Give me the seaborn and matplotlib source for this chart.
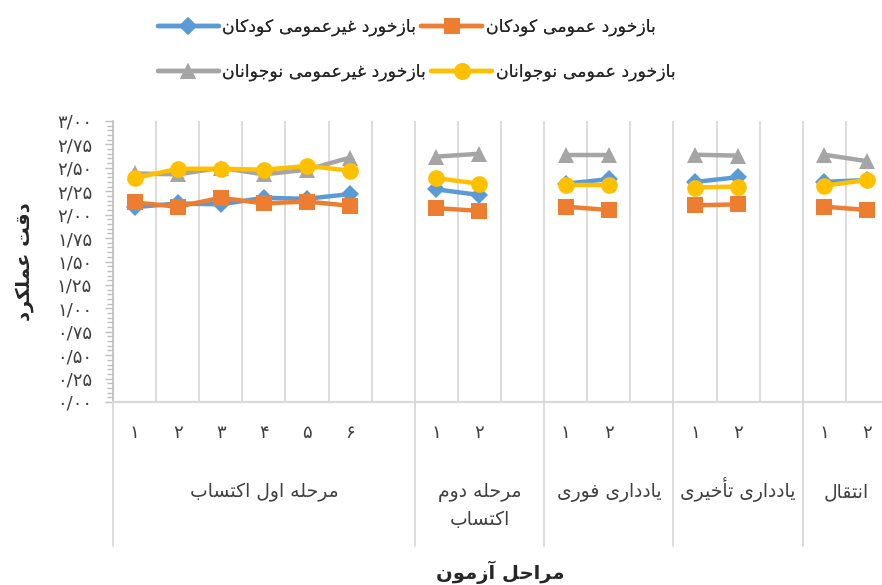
import matplotlib
matplotlib.use("Agg")
import matplotlib.pyplot as plt
from matplotlib.lines import Line2D
from matplotlib.ticker import FuncFormatter, MultipleLocator
import seaborn as sns
import pandas as pd
import numpy as np

# ---------------- data ----------------
series_names = ["بازخورد غیرعمومی کودکان", "بازخورد عمومی کودکان",
                "بازخورد غیرعمومی نوجوانان", "بازخورد عمومی نوجوانان"]
group_labels = ["مرحله اول اکتساب", "مرحله دوم\nاکتساب", "یادداری فوری",
                "یادداری تأخیری", "انتقال"]
group_sizes = [6, 2, 2, 2, 2]
tick_labels = ["1", "2", "3", "4", "5", "6", "1", "2", "1", "2", "1", "2", "1", "2"]

blue_vals = [2.08, 2.12, 2.11, 2.18, 2.17, 2.22, 2.27, 2.21, 2.33, 2.38, 2.35, 2.40, 2.35, 2.37]
orange_vals = [2.13, 2.085, 2.18, 2.12, 2.14, 2.095, 2.07, 2.04, 2.085, 2.05, 2.10, 2.11, 2.085, 2.05]
gray_vals = [2.44, 2.43, 2.50, 2.43, 2.48, 2.61, 2.62, 2.65, 2.64, 2.64, 2.64, 2.63, 2.64, 2.57]
yellow_vals = [2.39, 2.49, 2.49, 2.48, 2.52, 2.47, 2.39, 2.33, 2.32, 2.32, 2.29, 2.30, 2.31, 2.37]

y_label = "دقت عملکرد"
x_label = "مراحل آزمون"

colors = ["#5B9BD5", "#ED7D31", "#A5A5A5", "#FFC000"]
markers = ["D", "s", "^", "o"]
msizes = [9, 12, 12, 12]

# ---------------- Persian shaping (presentation forms + RTL order) ----------------
FORMS = {
    '\u0622': ('\uFE81', '\uFE82', None, None),
    '\u0623': ('\uFE83', '\uFE84', None, None),
    '\u0627': ('\uFE8D', '\uFE8E', None, None),
    '\u0628': ('\uFE8F', '\uFE90', '\uFE91', '\uFE92'),
    '\u067E': ('\uFB56', '\uFB57', '\uFB58', '\uFB59'),
    '\u062A': ('\uFE95', '\uFE96', '\uFE97', '\uFE98'),
    '\u062B': ('\uFE99', '\uFE9A', '\uFE9B', '\uFE9C'),
    '\u062C': ('\uFE9D', '\uFE9E', '\uFE9F', '\uFEA0'),
    '\u0686': ('\uFB7A', '\uFB7B', '\uFB7C', '\uFB7D'),
    '\u062D': ('\uFEA1', '\uFEA2', '\uFEA3', '\uFEA4'),
    '\u062E': ('\uFEA5', '\uFEA6', '\uFEA7', '\uFEA8'),
    '\u062F': ('\uFEA9', '\uFEAA', None, None),
    '\u0630': ('\uFEAB', '\uFEAC', None, None),
    '\u0631': ('\uFEAD', '\uFEAE', None, None),
    '\u0632': ('\uFEAF', '\uFEB0', None, None),
    '\u0698': ('\uFB8A', '\uFB8B', None, None),
    '\u0633': ('\uFEB1', '\uFEB2', '\uFEB3', '\uFEB4'),
    '\u0634': ('\uFEB5', '\uFEB6', '\uFEB7', '\uFEB8'),
    '\u0635': ('\uFEB9', '\uFEBA', '\uFEBB', '\uFEBC'),
    '\u0636': ('\uFEBD', '\uFEBE', '\uFEBF', '\uFEC0'),
    '\u0637': ('\uFEC1', '\uFEC2', '\uFEC3', '\uFEC4'),
    '\u0638': ('\uFEC5', '\uFEC6', '\uFEC7', '\uFEC8'),
    '\u0639': ('\uFEC9', '\uFECA', '\uFECB', '\uFECC'),
    '\u063A': ('\uFECD', '\uFECE', '\uFECF', '\uFED0'),
    '\u0641': ('\uFED1', '\uFED2', '\uFED3', '\uFED4'),
    '\u0642': ('\uFED5', '\uFED6', '\uFED7', '\uFED8'),
    '\u06A9': ('\uFB8E', '\uFB8F', '\uFB90', '\uFB91'),
    '\u06AF': ('\uFB92', '\uFB93', '\uFB94', '\uFB95'),
    '\u0644': ('\uFEDD', '\uFEDE', '\uFEDF', '\uFEE0'),
    '\u0645': ('\uFEE1', '\uFEE2', '\uFEE3', '\uFEE4'),
    '\u0646': ('\uFEE5', '\uFEE6', '\uFEE7', '\uFEE8'),
    '\u0648': ('\uFEED', '\uFEEE', None, None),
    '\u0647': ('\uFEE9', '\uFEEA', '\uFEEB', '\uFEEC'),
    '\u06CC': ('\uFBFC', '\uFBFD', '\uFBFE', '\uFBFF'),
}
FA_DIGITS = str.maketrans("0123456789.", "۰۱۲۳۴۵۶۷۸۹/")


def _shape(line):
    out = []
    n = len(line)
    for i, c in enumerate(line):
        f = FORMS.get(c)
        if f is None:
            out.append(c)
            continue
        dual = f[2] is not None
        p = line[i - 1] if i > 0 else None
        q = line[i + 1] if i < n - 1 else None
        pj = p in FORMS and FORMS[p][2] is not None
        nj = dual and q in FORMS
        if pj and nj:
            out.append(f[3])
        elif pj:
            out.append(f[1])
        elif nj:
            out.append(f[2])
        else:
            out.append(f[0])
    return "".join(out)


def fa(s):
    return "\n".join(_shape(l)[::-1] for l in s.split("\n"))


def fa_num(s):
    return s.translate(FA_DIGITS)


# ---------------- layout of categories ----------------
positions = []
segments = []
group_spans = []
pos = 0
for gi, size in enumerate(group_sizes):
    start = pos
    for k in range(size):
        positions.append(pos)
        segments.append(gi)
        pos += 1
    if gi < len(group_sizes) - 1:
        pos += 1  # blank category
    group_spans.append((start - 0.5, pos - 0.5))
n_cats = pos

rows = []
for name, vals in zip(series_names, [blue_vals, orange_vals, gray_vals, yellow_vals]):
    for p, s, v in zip(positions, segments, vals):
        rows.append({"pos": p, "value": v, "series": name, "segment": s})
df = pd.DataFrame(rows)

# ---------------- figure ----------------
sns.set_style("white")
plt.rcParams["font.family"] = ["DejaVu Sans"]

W, H = 882, 585
fig = plt.figure(figsize=(W / 100, H / 100), dpi=100)
left_px, right_px, top_px, bot_px = 113, 889, 121, 402
ax = fig.add_axes([left_px / W, (H - bot_px) / H, (right_px - left_px) / W, (bot_px - top_px) / H])

sns.lineplot(data=df, x="pos", y="value", hue="series", style="series",
             units="segment", estimator=None, sort=False,
             hue_order=series_names, style_order=series_names,
             palette=dict(zip(series_names, colors)),
             markers=dict(zip(series_names, markers)), dashes=False,
             linewidth=3.2, markersize=12, markeredgewidth=0,
             legend=False, ax=ax)
# per-series marker sizes
for line in ax.get_lines():
    c = matplotlib.colors.to_hex(line.get_color()).upper()
    if c in colors:
        line.set_markersize(msizes[colors.index(c)])

ax.set_xlim(-0.5, n_cats - 0.5)
ax.set_ylim(0, 3)
ax.set_xlabel("")
ax.set_ylabel("")

grid_c = "#D9D9D9"
ax.set_xticks(np.arange(-0.5, n_cats, 1.0))
ax.set_xticklabels([])
ax.xaxis.grid(True, color=grid_c, linewidth=1.3)
ax.yaxis.grid(False)
ax.tick_params(axis="x", which="major", length=38, width=1.3, color=grid_c, direction="out")

ax.yaxis.set_major_locator(MultipleLocator(0.25))
ax.yaxis.set_minor_locator(MultipleLocator(0.05))
ax.yaxis.set_major_formatter(FuncFormatter(lambda v, _: fa_num(f"{v:.2f}")))
ax.tick_params(axis="y", which="major", length=6, width=1, color="#BFBFBF", labelsize=13,
               labelcolor="#404040", pad=9, direction="out", left=True)
ax.tick_params(axis="y", which="minor", length=4, width=1, color="#BFBFBF", direction="out", left=True)

for sp in ["top", "right"]:
    ax.spines[sp].set_visible(False)
ax.spines["left"].set_color("#BFBFBF")
ax.spines["left"].set_linewidth(1.2)
ax.spines["bottom"].set_color(grid_c)
ax.spines["bottom"].set_linewidth(1.6)

# category tick labels
trans = ax.get_xaxis_transform()
ax_h = bot_px - top_px
for p, t in zip(positions, tick_labels):
    ax.text(p, -(433 - bot_px) / ax_h, fa_num(t), transform=trans, ha="center", va="center",
            fontsize=13, color="#404040")

# group separators and labels
bounds = sorted(set([b for span in group_spans for b in span]))
for b in bounds:
    ax.plot([b, b], [0, -(546 - bot_px) / ax_h], transform=trans, color=grid_c,
            linewidth=1.3, clip_on=False)
line_step = 28
for (a, b), lab in zip(group_spans, group_labels):
    for li, part in enumerate(lab.split("\n")):
        ax.text((a + b) / 2, -(497 + li * line_step - bot_px) / ax_h, fa(part), transform=trans,
                ha="center", va="baseline", fontsize=13.5, color="#404040")

# axis titles
fig.text(500 / W, 1 - 572 / H, fa(x_label), ha="center", va="center", fontsize=14,
         fontweight="bold", color="#262626")
fig.text(24 / W, 1 - 262 / H, fa(y_label), ha="center", va="center", rotation=90,
         fontsize=14, fontweight="bold", color="#262626")

# legend (two rows, laid out like the original)
handles = [Line2D([], [], color=c, marker=m, markersize=ms, linewidth=3.2, markeredgewidth=0)
           for c, m, ms in zip(colors, markers, msizes)]
for row, yy in [(0, 27), (1, 72)]:
    idx = [2 * row, 2 * row + 1]
    leg = fig.legend([handles[i] for i in idx], [fa(series_names[i]) for i in idx],
                     loc="center left", bbox_to_anchor=(158 / W, 1 - yy / H), ncol=2,
                     frameon=False, fontsize=12.5, handlelength=3.5, handletextpad=0.2,
                     columnspacing=0.3, borderpad=0, borderaxespad=0, labelcolor="#262626")
    fig.add_artist(leg)

fig.savefig("out.png", dpi=100)
